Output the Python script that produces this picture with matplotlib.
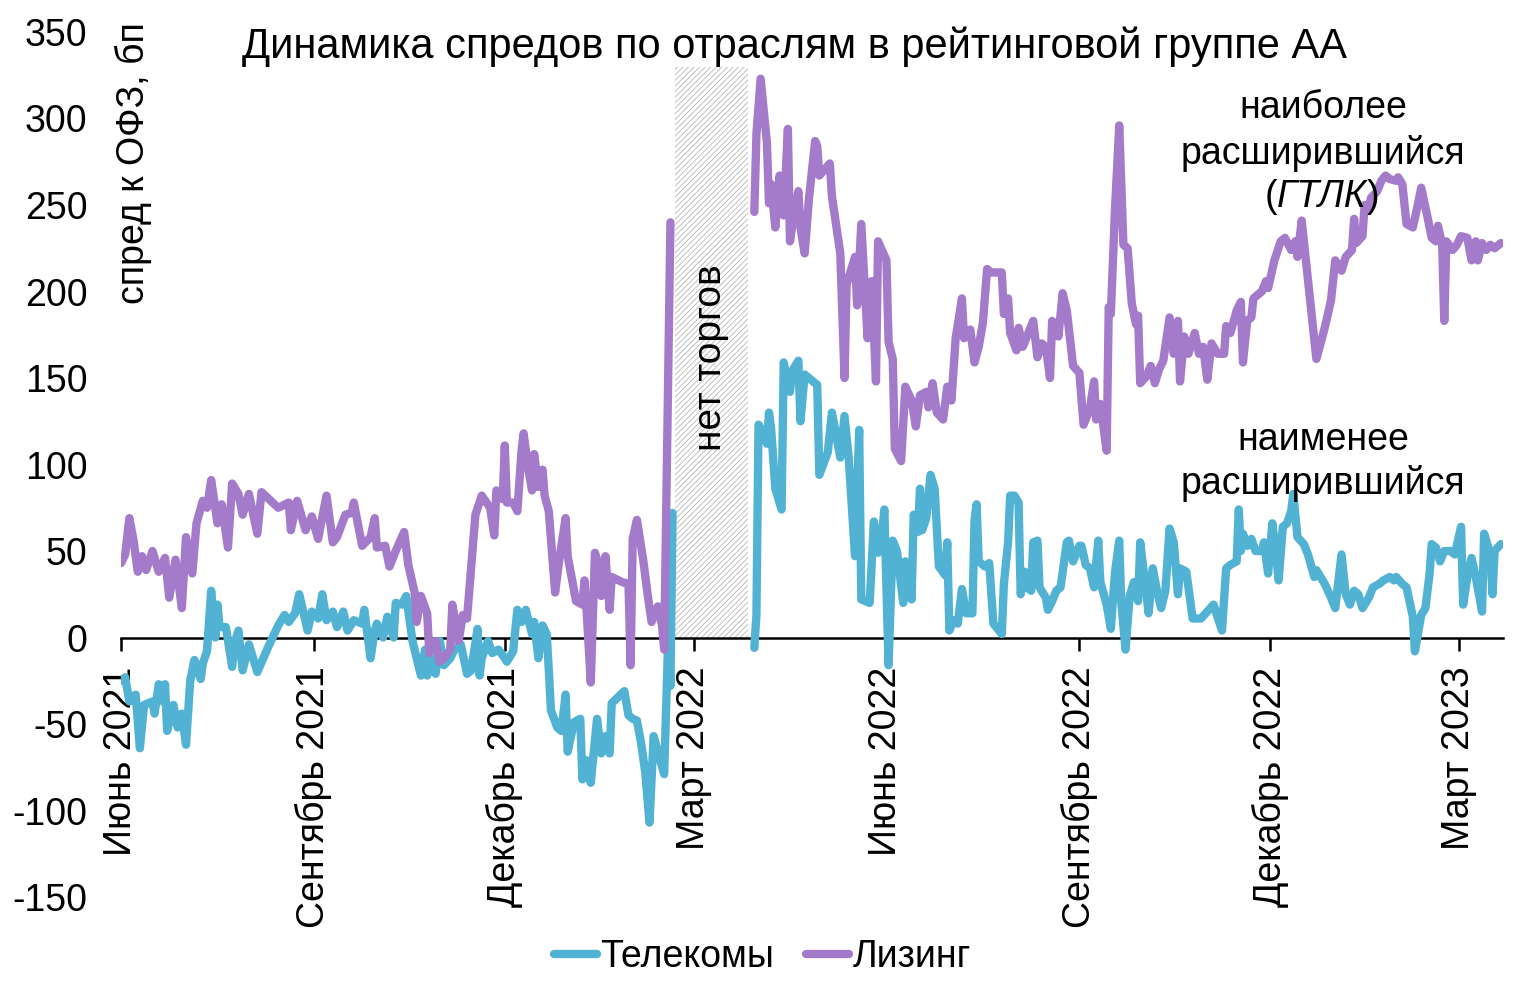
import numpy as np
import pandas as pd
import matplotlib
matplotlib.use("Agg")
import matplotlib.pyplot as plt

plt.rcParams['font.family'] = ['Liberation Sans', 'DejaVu Sans']
plt.rcParams['hatch.linewidth'] = 0.5
plt.rcParams['axes.unicode_minus'] = False

# дни от 01.06.2021
start = pd.Timestamp("2021-06-01")

# Лизинг (ГТЛК), до и после перерыва в торгах
lease_days_before = [
    0, 2, 4, 6, 8, 10, 12, 15, 18, 21,
    23, 26, 29, 31, 34, 36, 39, 41, 43, 46,
    48, 51, 53, 56, 58, 61, 65, 67, 75, 80,
    81, 84, 88, 91, 94, 98, 101, 103, 107, 110,
    111, 115, 119, 121, 122, 126, 128, 131, 135, 137,
    140, 141, 143, 146, 147, 150, 152, 154, 157, 158,
    161, 163, 165, 169, 172, 176, 178, 179, 182, 183,
    184, 187, 189, 191, 192, 194, 196, 197, 199, 201,
    202, 204, 207, 209, 212, 213, 217, 220, 221, 222,
    224, 226, 227, 229, 231, 233, 234, 239, 242, 243,
    244, 246, 249, 251, 253, 256, 258, 259, 262]
lease_before = [
    43, 48, 69, 56, 38, 47, 39, 50, 38, 46,
    23, 45, 17, 58, 37, 66, 79, 75, 91, 66,
    77, 52, 89, 83, 71, 83, 60, 84, 75, 78,
    62, 79, 62, 70, 57, 82, 55, 58, 71, 72,
    78, 53, 58, 69, 52, 53, 41, 50, 61, 42,
    26, 9, 24, 14, -9, -2, -14, -12, -7, 19,
    -2, 13, 11, 71, 82, 75, 59, 85, 80, 111,
    78, 78, 73, 108, 118, 99, 85, 106, 87, 97,
    82, 73, 26, 45, 69, 47, 21, 19, 33, 16,
    -26, 49, 45, 24, 47, 16, 35, 32, 31, -16,
    57, 68, 45, 26, 9, 18, 7, -7, 240]

lease_days_after = [
    302, 303, 305, 308, 309, 310, 312, 314, 316, 318,
    319, 321, 323, 324, 326, 328, 331, 332, 333, 338,
    339, 343, 345, 346, 350, 351, 353, 356, 358, 360,
    361, 365, 366, 368, 369, 372, 374, 377, 379, 381,
    384, 385, 387, 389, 392, 394, 396, 398, 401, 402,
    405, 407, 409, 411, 413, 415, 420, 421, 423, 424,
    427, 428, 430, 432, 435, 437, 439, 441, 443, 444,
    446, 447, 449, 451, 454, 457, 459, 462, 464, 465,
    467, 470, 471, 472, 474, 476, 478, 480, 482, 484,
    485, 486, 489, 491, 493, 495, 497, 500, 502, 504,
    505, 507, 509, 512, 514, 516, 518, 520, 523, 526,
    527, 529, 532, 534, 535, 537, 539, 540, 544, 546,
    547, 550, 553, 555, 558, 560, 561, 563, 565, 567,
    570, 574, 577, 579, 582, 584, 587, 588, 589, 592,
    593, 595, 596, 599, 601, 603, 605, 608, 609, 611,
    613, 616, 618, 620, 623, 625, 627, 628, 630, 631,
    632, 635, 637, 639, 642, 644, 646, 647, 649, 651,
    653, 655, 658]
lease_after = [
    246, 291, 323, 286, 251, 262, 237, 267, 244, 294,
    229, 246, 258, 237, 222, 253, 287, 284, 267, 274,
    255, 222, 150, 204, 220, 192, 239, 173, 206, 148,
    229, 218, 171, 161, 109, 102, 145, 137, 122, 140,
    142, 133, 147, 130, 126, 145, 137, 173, 196, 173,
    178, 159, 168, 182, 213, 211, 211, 187, 196, 176,
    166, 179, 168, 174, 183, 162, 170, 168, 150, 183,
    179, 174, 199, 189, 157, 153, 123, 132, 148, 126,
    135, 108, 191, 187, 248, 296, 227, 225, 193, 181,
    186, 147, 151, 157, 147, 155, 160, 185, 164, 183,
    148, 174, 164, 176, 164, 168, 149, 170, 164, 164,
    180, 176, 189, 194, 159, 183, 185, 196, 200, 206,
    202, 218, 229, 231, 224, 229, 220, 241, 218, 195,
    161, 179, 195, 218, 212, 220, 224, 242, 228, 232,
    250, 247, 254, 258, 264, 267, 265, 264, 266, 262,
    239, 237, 248, 260, 243, 231, 229, 238, 227, 183,
    229, 224, 227, 232, 231, 218, 229, 218, 228, 224,
    227, 225, 228]

# Телекомы
tele_days_before = [
    0, 2, 4, 7, 9, 11, 15, 16, 18, 20,
    21, 22, 25, 27, 29, 31, 33, 35, 38, 39,
    41, 43, 45, 46, 47, 50, 53, 54, 56, 58,
    61, 65, 70, 75, 78, 80, 83, 85, 89, 91,
    94, 96, 98, 101, 103, 106, 108, 111, 115, 116,
    119, 121, 122, 125, 127, 130, 131, 134, 136, 139,
    141, 143, 145, 146, 148, 150, 152, 154, 157, 159,
    162, 165, 167, 170, 171, 172, 175, 177, 180, 183,
    184, 187, 189, 191, 193, 196, 197, 199, 201, 203,
    204, 205, 208, 210, 212, 213, 216, 219, 220, 222,
    224, 226, 227, 229, 231, 233, 234, 240, 242, 244,
    246, 248, 250, 252, 254, 256, 259, 261, 262, 263]
tele_before = [
    -25, -23, -37, -33, -64, -39, -37, -44, -27, -37,
    -27, -54, -39, -52, -44, -62, -25, -13, -24, -15,
    -8, 27, 0, 19, 6, 6, -17, -4, 4, -19,
    -4, -20, -6, 7, 13, 9, 14, 25, 4, 15,
    11, 25, 10, 15, 6, 15, 4, 10, 8, 16,
    -12, 4, 8, 0, 12, 0, 20, 19, 24, -2,
    -12, -22, -7, -22, -12, -21, -2, -16, -12, -7,
    -4, -21, -19, 5, -22, -12, -2, -9, -7, -12,
    -14, -8, 16, 9, 16, 2, 9, -12, 7, 2,
    -19, -42, -52, -54, -33, -66, -49, -47, -82, -71,
    -84, -59, -47, -67, -57, -67, -38, -31, -45, -47,
    -48, -61, -78, -107, -57, -66, -79, 2, -28, 72]

tele_days_after = [
    302, 303, 304, 306, 308, 309, 310, 312, 315, 316,
    319, 320, 323, 324, 326, 328, 332, 333, 337, 339,
    343, 345, 347, 350, 352, 353, 357, 359, 361, 363,
    364, 366, 368, 370, 373, 374, 377, 378, 380, 381,
    382, 384, 386, 388, 390, 393, 394, 395, 397, 399,
    401, 403, 406, 407, 408, 409, 412, 414, 416, 420,
    421, 423, 424, 426, 428, 429, 431, 432, 434, 435,
    437, 438, 441, 442, 444, 446, 448, 451, 452, 454,
    457, 458, 460, 462, 464, 466, 467, 470, 472, 474,
    476, 477, 479, 481, 483, 485, 486, 489, 490, 492,
    494, 496, 498, 500, 502, 504, 505, 508, 511, 515,
    518, 521, 525, 527, 529, 532, 533, 534, 535, 537,
    539, 541, 544, 545, 547, 549, 551, 552, 554, 556,
    558, 559, 561, 564, 566, 569, 570, 574, 577, 579,
    582, 584, 586, 588, 590, 592, 595, 597, 600, 602,
    605, 607, 608, 611, 613, 616, 617, 620, 622, 624,
    625, 627, 629, 631, 634, 636, 639, 640, 642, 644,
    646, 649, 650, 653, 654, 655, 658]
tele_after = [
    -6, 13, 123, 119, 112, 130, 121, 86, 74, 159,
    142, 154, 160, 125, 152, 150, 146, 94, 107, 130,
    104, 128, 104, 47, 120, 22, 20, 67, 49, 61,
    74, -16, 56, 50, 20, 44, 22, 71, 61, 86,
    62, 69, 94, 86, 41, 36, 55, 4, 10, 8,
    28, 14, 14, 68, 77, 44, 41, 43, 8, 2,
    31, 55, 82, 82, 78, 25, 38, 29, 27, 55,
    56, 29, 23, 16, 21, 27, 29, 55, 56, 44,
    53, 53, 42, 40, 29, 56, 32, 19, 5, 38,
    56, 20, -7, 24, 32, 21, 55, 25, 14, 40,
    27, 17, 27, 63, 55, 25, 40, 38, 11, 11,
    15, 19, 4, 40, 42, 44, 74, 50, 60, 53,
    57, 50, 50, 55, 37, 66, 46, 33, 64, 66,
    73, 83, 58, 54, 48, 35, 39, 31, 23, 17,
    48, 25, 19, 27, 25, 17, 23, 29, 31, 33,
    35, 33, 35, 31, 29, 12, -8, 13, 17, 37,
    54, 52, 44, 50, 50, 48, 64, 19, 35, 46,
    35, 15, 60, 48, 25, 50, 54]

no_trade = ("2022-02-20", "2022-03-27")
no_trade_top = 330

tick_dates = ["2021-06-01", "2021-09-01", "2021-12-01", "2022-03-01",
              "2022-06-01", "2022-09-01", "2022-12-01", "2023-03-01"]
tick_labels = ["Июнь 2021", "Сентябрь 2021", "Декабрь 2021", "Март 2022",
               "Июнь 2022", "Сентябрь 2022", "Декабрь 2022", "Март 2023"]

TELE_COLOR = "#52B2D4"
LEASE_COLOR = "#A47ACB"
FS = 27


def series(days_a, vals_a, days_b, vals_b):
    # разрыв на период без торгов
    d = start + pd.to_timedelta(days_a + [280] + days_b, unit="D")
    v = np.array(vals_a + [np.nan] + vals_b, dtype=float)
    return d, v


fig = plt.figure(figsize=(15.25, 9.96), dpi=100)
ax = fig.add_axes([121 / 1525, 99 / 996, 1382 / 1525, 865 / 996])

ax.fill_between(pd.to_datetime(list(no_trade)), 0, no_trade_top,
                facecolor="white", edgecolor="#a8a8a8", hatch="//////",
                linewidth=0, zorder=1)

td, tv = series(tele_days_before, tele_before, tele_days_after, tele_after)
ld, lv = series(lease_days_before, lease_before, lease_days_after, lease_after)
ax.plot(td, tv, color=TELE_COLOR, lw=6, solid_joinstyle="round",
        solid_capstyle="round", label="Телекомы", zorder=3)
ax.plot(ld, lv, color=LEASE_COLOR, lw=6, solid_joinstyle="round",
        solid_capstyle="round", label="Лизинг", zorder=3)

ax.set_xlim(start, start + pd.Timedelta(days=659))
ax.set_ylim(-150, 350)
ax.set_yticks(range(-150, 351, 50))

ax.set_xticks(pd.to_datetime(tick_dates))
ax.set_xticklabels(tick_labels)

for s in ["left", "right", "top"]:
    ax.spines[s].set_visible(False)
ax.spines["bottom"].set_position(("data", 0))
ax.spines["bottom"].set_linewidth(1.8)
ax.spines["bottom"].set_zorder(2)

ax.tick_params(axis="x", direction="out", length=9, width=1.8, pad=12,
               labelsize=FS, labelrotation=90)
ax.tick_params(axis="y", length=0, pad=24, labelsize=FS)

mid = pd.to_datetime(no_trade[0]) + (pd.to_datetime(no_trade[1]) - pd.to_datetime(no_trade[0])) / 2
ax.text(mid, 162, "нет торгов", rotation=90, ha="center", va="center", fontsize=28, zorder=4)

fig.text(795 / 1525, 1 - 47 / 996, "Динамика спредов по отраслям в рейтинговой группе АА",
         ha="center", va="center", fontsize=30)
fig.text(133 / 1525, 1 - 22 / 996, "спред к ОФЗ, бп", rotation=90,
         ha="center", va="top", fontsize=FS)

fig.text(1323 / 1525, 1 - 108 / 996, "наиболее", ha="center", va="center", fontsize=FS)
fig.text(1323 / 1525, 1 - 153 / 996, "расширившийся", ha="center", va="center", fontsize=FS)
fig.text(1322 / 1525, 1 - 197 / 996, "ГТЛК", ha="center", va="center", fontsize=FS, style="italic")
fig.text(1277 / 1525, 1 - 197 / 996, "(", ha="right", va="center", fontsize=FS)
fig.text(1367 / 1525, 1 - 197 / 996, ")", ha="left", va="center", fontsize=FS)
fig.text(1323 / 1525, 1 - 440 / 996, "наименее", ha="center", va="center", fontsize=FS)
fig.text(1323 / 1525, 1 - 483 / 996, "расширившийся", ha="center", va="center", fontsize=FS)

fig.legend(loc="center", bbox_to_anchor=(0.5, 1 - 957 / 996), ncol=2, frameon=False,
           fontsize=FS, handlelength=1.15, handletextpad=0.08, columnspacing=0.85)

fig.savefig("out.png", dpi=100)
